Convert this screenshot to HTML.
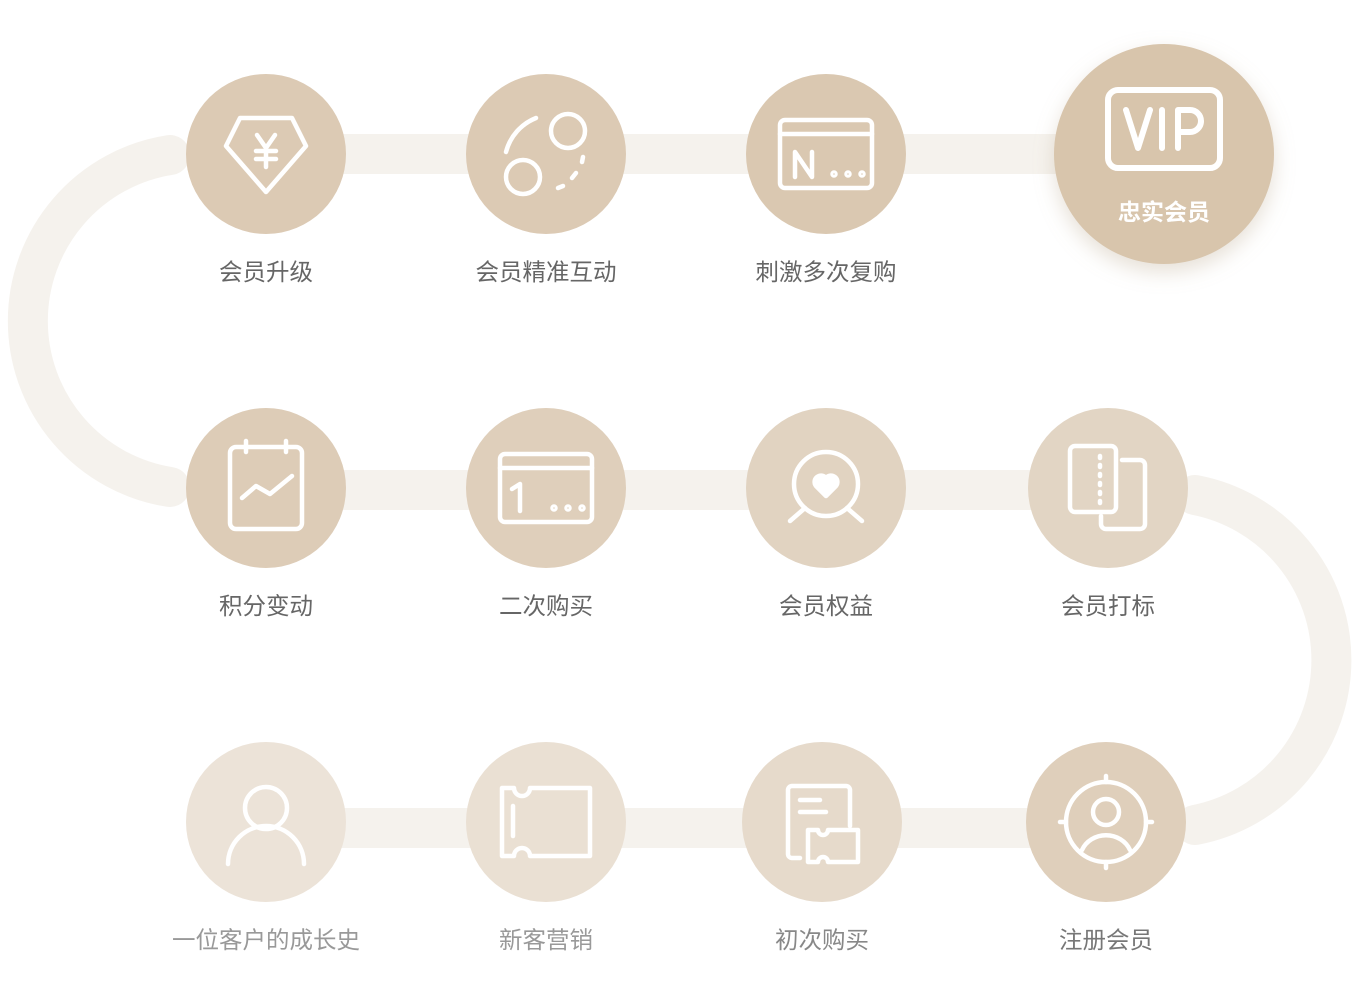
<!DOCTYPE html>
<html><head><meta charset="utf-8"><style>
html,body{margin:0;padding:0;background:#fff;width:1360px;height:1000px;overflow:hidden}
svg{display:block}
text{font-family:"Liberation Sans","Noto Sans CJK SC",sans-serif}
</style></head><body>
<svg width="1360" height="1000" viewBox="0 0 1360 1000" xmlns="http://www.w3.org/2000/svg">
<defs>
<filter id="sh" x="-30%" y="-30%" width="160%" height="160%"><feDropShadow dx="0" dy="8" stdDeviation="10" flood-color="#b9a58a" flood-opacity="0.35"/></filter>
</defs>
<g stroke="#f5f2ed" stroke-width="40" fill="none" stroke-linecap="round">
<path d="M170 155 A168 168 0 0 0 170 487"/>
<path d="M1195 495 A168 168 0 0 1 1195 825"/>
<line x1="266" y1="154" x2="1164" y2="154"/>
<line x1="266" y1="490" x2="1108" y2="490"/>
<line x1="300" y1="828" x2="1106" y2="828"/>
</g>
<g>
<circle cx="266" cy="154" r="80" fill="#dccab4"/>
<circle cx="546" cy="154" r="80" fill="#dccab4"/>
<circle cx="826" cy="154" r="80" fill="#dac8b1"/>
<circle cx="1164" cy="154" r="110" fill="#d8c5ac" filter="url(#sh)"/>
<circle cx="266" cy="488" r="80" fill="#ddccb7"/>
<circle cx="546" cy="488" r="80" fill="#dfcfbb"/>
<circle cx="826" cy="488" r="80" fill="#e1d3c1"/>
<circle cx="1108" cy="488" r="80" fill="#e2d5c4"/>
<circle cx="266" cy="822" r="80" fill="#ece3d8"/>
<circle cx="546" cy="822" r="80" fill="#eae0d3"/>
<circle cx="822" cy="822" r="80" fill="#e6dacb"/>
<circle cx="1106" cy="822" r="80" fill="#dfcfbb"/>
</g>
<g stroke="#fff" stroke-width="4.5" fill="none" stroke-linecap="round" stroke-linejoin="round">
<path d="M240 118 H292 L306 146 L266 192 L226 146 Z"/>
<path d="M257 135 L266 148 L275 135 M266 148 V167 M256 151 H276 M256 159 H276"/>
<circle cx="568" cy="131" r="17"/><circle cx="523" cy="177" r="17"/>
<path d="M506 152 A50 50 0 0 1 536 118"/>
<path d="M583 157 L582 162 M576 173 L572 178 M563 186 L558 188" />
<rect x="780" y="120" width="92" height="68" rx="5"/>
<line x1="780" y1="134" x2="872" y2="134"/>
<path d="M795 177 V152 L812 177 V152"/>
<circle cx="834" cy="174" r="1.5"/><circle cx="848" cy="174" r="1.5"/><circle cx="862" cy="174" r="1.5"/>
<rect x="1108" y="90" width="112" height="78" rx="10" stroke-width="6"/>
<path d="M1126 110 L1138 148 L1150 110 M1162 110 V148 M1178 148 V110 H1190 A10 10 0 0 1 1190 132 H1178" stroke-width="6"/>
<rect x="230" y="447" width="72" height="82" rx="6"/>
<path d="M246 441 V452 M286 441 V452 M242 498 L256 486 L270 494 L292 476"/>
<rect x="500" y="454" width="92" height="68" rx="5"/>
<line x1="500" y1="468" x2="592" y2="468"/>
<path d="M512 489 L520 484 V511"/>
<circle cx="554" cy="508" r="1.5"/><circle cx="568" cy="508" r="1.5"/><circle cx="582" cy="508" r="1.5"/>
<circle cx="826" cy="484" r="32"/>
<path d="M805 508 L790 521 M847 508 L862 521"/>
<path d="M826 496 L816 486 A6 6 0 0 1 826 478 A6 6 0 0 1 836 486 Z" fill="#fff"/>
<rect x="1070" y="446" width="46" height="66" rx="5"/>
<path d="M1122 460 H1140 A5 5 0 0 1 1145 465 V524 A5 5 0 0 1 1140 529 H1106 A5 5 0 0 1 1101 524 V516"/>
<path d="M1100 456 V506" stroke-dasharray="2 7"/>
<circle cx="266" cy="808" r="21"/>
<path d="M228 864 A38 38 0 0 1 304 864"/>
<path d="M502 788 H514 A8 8 0 0 0 530 788 H590 V856 H530 A8 8 0 0 0 514 856 H502 Z"/>
<path d="M513 806 V836"/>
<path d="M800 858 H792 A4 4 0 0 1 788 854 V790 A4 4 0 0 1 792 786 H846 A4 4 0 0 1 850 790 V826"/>
<path d="M800 800 H820 M800 812 H826"/>
<path d="M808 830 H818 A5 5 0 0 0 828 830 H858 V862 H828 A5 5 0 0 0 818 862 H808 Z"/>
<circle cx="1106" cy="822" r="40"/>
<circle cx="1106" cy="812" r="13"/>
<path d="M1082 850 A26 24 0 0 1 1130 850"/>
<path d="M1106 776 V782 M1106 862 V868 M1060 822 H1066 M1146 822 H1152"/>
</g>
<g font-size="23.5" fill="#666" text-anchor="middle">
<text x="266" y="280">会员升级</text>
<text x="546" y="280">会员精准互动</text>
<text x="826" y="280">刺激多次复购</text>
<text x="266" y="614">积分变动</text>
<text x="546" y="614">二次购买</text>
<text x="826" y="614">会员权益</text>
<text x="1108" y="614">会员打标</text>
<text x="266" y="948" fill="#999">一位客户的成长史</text>
<text x="546" y="948" fill="#999">新客营销</text>
<text x="822" y="948" fill="#888">初次购买</text>
<text x="1106" y="948" fill="#777">注册会员</text>
<text x="1164" y="220" fill="#fff" font-size="23" font-weight="bold">忠实会员</text>
</g>
</svg>
</body></html>
